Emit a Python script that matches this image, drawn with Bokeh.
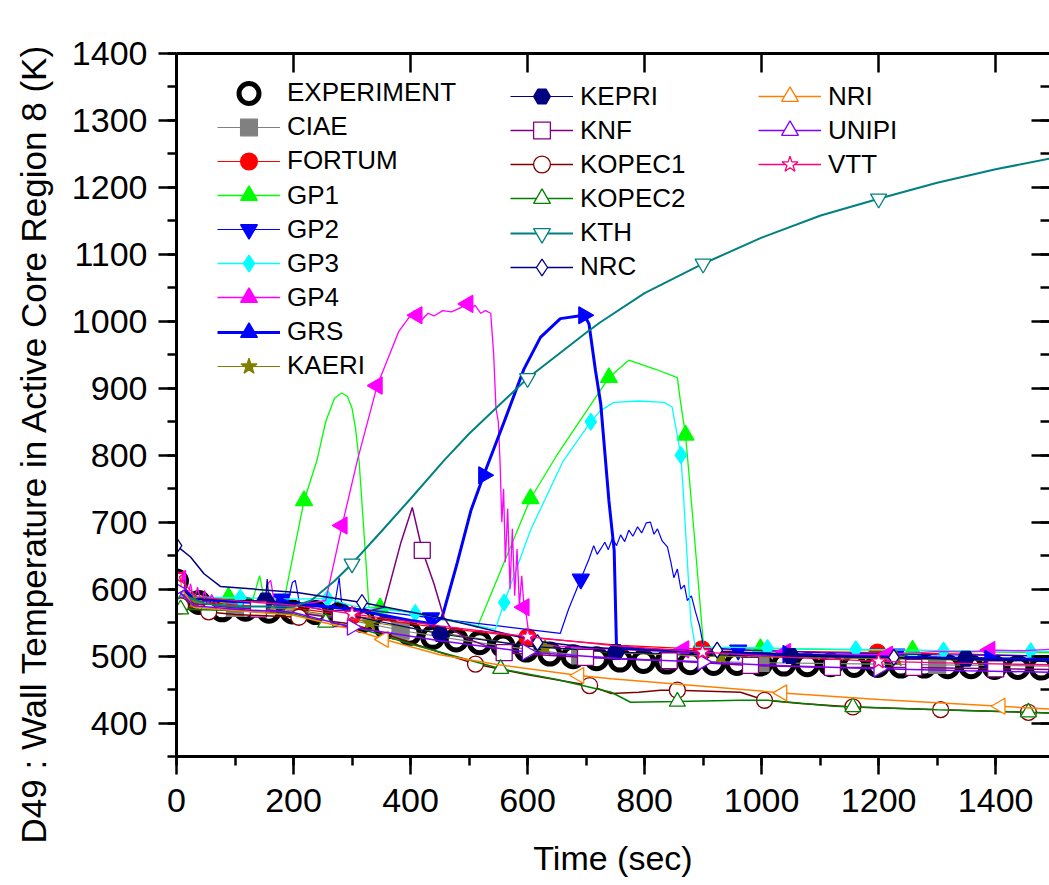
from math import pi
from bokeh.plotting import figure
from bokeh.models import (Range1d, LinearAxis, SingleIntervalTicker, Legend, LegendItem,
                          Title, CustomJSTickFormatter)
from bokeh.embed import file_html
from bokeh.resources import INLINE

FONT = "Liberation Sans"

# ---------------- data (time in s, wall temperature in K) ----------------
exp_t = [0, 38, 78, 118, 158, 198, 238, 278, 318, 358, 398, 438, 478, 518, 558, 598, 638, 678, 718, 758,
         798, 838, 878, 918, 958, 998, 1038, 1078, 1118, 1158, 1198, 1238, 1278, 1318, 1358, 1398, 1438, 1478]
exp_T = [612, 580, 569, 570, 567, 566, 565, 562, 553, 543, 534, 528, 524, 520, 515, 509, 503, 499, 496, 494,
         492, 491, 490, 489, 489, 488, 488, 487, 487, 486, 486, 485, 485, 484, 484, 483, 483, 482]

ciae_t = [0, 30, 100, 200, 300, 400, 500, 600, 700, 800, 900, 1000, 1100, 1200, 1300, 1400, 1492]
ciae_T = [605, 578, 572, 568, 553, 536, 522, 510, 500, 494, 492, 490, 489, 488, 487, 486, 485]
ciae_mt = [100, 383, 690, 998, 1300]
ciae_mT = [572, 538, 501, 490, 487]

fort_t = [0, 40, 100, 200, 300, 446, 600, 759, 900, 1050, 1198, 1350, 1492]
fort_T = [612, 582, 576, 572, 560, 543, 528, 516, 510, 507, 505, 503, 500]
fort_mt = [0, 300, 600, 898, 1198]
fort_mT = [612, 560, 528, 510, 505]

gp1_t = [0, 30, 100, 130, 142, 150, 186, 218, 240, 255, 270, 282, 292, 300, 306, 312, 320, 329, 348, 400,
         450, 500, 514, 522, 560, 605, 650, 700, 739, 773, 820, 856, 861, 870, 885, 901, 950, 1000, 1100, 1200,
         1300, 1400, 1492]
gp1_T = [600, 590, 583, 583, 620, 585, 593, 732, 792, 850, 885, 893, 888, 870, 840, 792, 690, 573, 572, 565,
         555, 548, 543, 560, 640, 735, 800, 865, 916, 942, 928, 916, 882, 830, 680, 513, 512, 511, 510, 509,
         508, 506, 505]
gp1_mt = [89, 218, 348, 605, 739, 870, 998, 1258]
gp1_mT = [588, 732, 572, 735, 916, 830, 511, 509]

gp2_t = [0, 30, 100, 190, 198, 203, 210, 270, 278, 282, 290, 309, 446, 550, 656, 670, 691, 705, 713, 719,
         725, 732, 738, 745, 752, 759, 766, 773, 780, 788, 795, 803, 810, 816, 822, 830, 839, 845, 850, 856,
         862, 868, 873, 880, 887, 894, 901, 950, 1100, 1300, 1492]
gp2_T = [605, 585, 580, 578, 610, 613, 580, 575, 617, 580, 572, 571, 556, 545, 534, 570, 615, 645, 665, 652,
         660, 670, 659, 676, 665, 681, 671, 688, 679, 693, 684, 699, 700, 682, 690, 672, 663, 640, 617, 630,
         600, 606, 583, 590, 566, 545, 513, 510, 505, 502, 500]
gp2_mt = [180, 435, 691, 960, 1230]
gp2_mT = [585, 557, 615, 509, 503]

gp3_t = [0, 30, 109, 200, 258, 300, 408, 500, 545, 560, 605, 660, 708, 725, 748, 790, 833, 847, 862, 867,
         879, 887, 950, 1010, 1161, 1311, 1460, 1492]
gp3_T = [608, 588, 587, 585, 586, 575, 564, 548, 540, 580, 688, 790, 850, 867, 879, 881, 879, 872, 800, 732,
         553, 513, 513, 512, 510, 508, 507, 507]
gp3_mt = [109, 258, 408, 560, 708, 862, 1010, 1161, 1311, 1460]
gp3_mT = [587, 586, 564, 580, 850, 800, 512, 510, 508, 507]

gp4_t = [0, 6, 12, 18, 24, 30, 36, 42, 48, 54, 60, 70, 100, 150, 156, 161, 168, 200, 255, 283,
         309, 343, 380, 406, 411, 420, 430, 440, 455, 470, 485, 498, 503, 510, 520, 528, 537, 542, 546, 550,
         553, 556, 559, 562, 566, 570, 574, 578, 582, 586, 590, 594, 598, 602, 610, 650, 700, 800, 900, 1000,
         1100, 1200, 1250, 1300, 1350, 1400, 1450, 1492]
gp4_T = [620, 585, 612, 584, 608, 582, 603, 580, 598, 578, 592, 576, 575, 574, 608, 613, 576, 575, 583, 695,
         792, 904, 985, 1016, 1009, 1003, 1012, 1008, 1016, 1014, 1020, 1026, 1018, 1024, 1012, 1016, 1012, 952, 870, 850,
         790, 700, 750, 640, 720, 600, 690, 590, 660, 575, 620, 573, 560, 534, 520, 515, 512, 508, 505, 504,
         503, 502, 504, 507, 506, 509, 508, 510]
gp4_mt = [7, 283, 343, 411, 498, 594, 867, 1041, 1215, 1390]
gp4_mT = [615, 695, 904, 1009, 1026, 573, 510, 506, 502, 509]

grs_t = [0, 30, 100, 200, 300, 400, 440, 454, 480, 503, 525, 560, 594, 622, 656, 696, 702, 705, 716, 725,
         739, 748, 752, 800, 900, 1000, 1100, 1200, 1300, 1400, 1492]
grs_T = [610, 585, 582, 578, 570, 553, 548, 558, 640, 717, 770, 850, 929, 976, 1004, 1009, 1001, 996, 927, 877,
         732, 658, 513, 510, 506, 503, 500, 499, 497, 496, 495]
grs_mt = [180, 525, 696, 1045, 1390]
grs_mT = [578, 770, 1009, 503, 496]

kaeri_t = [0, 30, 100, 200, 300, 450, 600, 750, 900, 1050, 1200, 1350, 1492]
kaeri_T = [603, 580, 574, 570, 555, 535, 515, 505, 500, 498, 496, 494, 493]
kaeri_mt = [30, 330, 630, 930, 1230]
kaeri_mT = [580, 550, 512, 499, 496]

kepri_t = [0, 30, 100, 152, 155, 158, 200, 300, 451, 600, 751, 900, 1050, 1200, 1349, 1492]
kepri_T = [607, 585, 583, 583, 615, 583, 578, 560, 533, 515, 506, 502, 500, 498, 496, 494]
kepri_mt = [152, 451, 751, 1050, 1349]
kepri_mT = [583, 533, 506, 500, 496]

knf_t = [0, 30, 100, 140, 200, 280, 354, 383, 403, 420, 440, 457, 470, 500, 560, 699, 842, 981, 1121, 1260,
         1400, 1492]
knf_T = [600, 578, 572, 570, 565, 556, 573, 668, 722, 658, 608, 558, 540, 525, 505, 498, 493, 486, 483, 483,
         481, 480]
knf_mt = [0, 140, 280, 420, 560, 699, 842, 981, 1121, 1260, 1400]
knf_mT = [600, 570, 556, 658, 505, 498, 493, 486, 483, 483, 481]

kop1_t = [0, 7, 55, 100, 209, 300, 360, 400, 511, 600, 706, 743, 790, 827, 856, 964, 985, 1005, 1067, 1156,
          1306, 1456, 1492]
kop1_T = [592, 575, 566, 562, 558, 548, 532, 520, 488, 472, 456, 444, 446, 449, 449, 446, 440, 434, 429, 424,
          420, 416, 415]
kop1_mt = [7, 55, 209, 511, 706, 856, 1005, 1156, 1306, 1456]
kop1_mT = [575, 566, 558, 488, 456, 449, 434, 424, 420, 416]

kop2_t = [0, 7, 100, 200, 255, 300, 400, 554, 650, 743, 776, 856, 964, 1010, 1124, 1300, 1492]
kop2_T = [575, 570, 568, 563, 550, 545, 518, 481, 465, 446, 431, 432, 434, 434, 425, 420, 415]
kop2_mt = [7, 255, 554, 856, 1156, 1456]
kop2_mT = [570, 550, 481, 432, 424, 416]

kth_t = [0, 50, 100, 200, 230, 270, 300, 350, 400, 457, 500, 600, 700, 725, 800, 900, 1000, 1101, 1200, 1300,
         1400, 1492]
kth_T = [595, 578, 574, 574, 583, 612, 638, 686, 735, 792, 832, 915, 983, 999, 1042, 1086, 1125, 1158, 1183, 1207,
         1227, 1243]
kth_mt = [0, 300, 600, 900, 1200]
kth_mT = [595, 638, 915, 1086, 1183]

nrc_t = [0, 24, 47, 75, 132, 206, 317, 446, 617, 700, 800, 924, 1050, 1226, 1350, 1492]
nrc_T = [665, 648, 623, 604, 600, 595, 580, 558, 522, 513, 509, 507, 503, 498, 495, 492]
nrc_mt = [0, 317, 617, 924, 1226]
nrc_mT = [665, 580, 520, 509, 498]

nri_t = [0, 30, 100, 200, 300, 354, 450, 550, 688, 743, 900, 1035, 1200, 1408, 1492]
nri_T = [612, 573, 568, 561, 540, 525, 502, 487, 471, 466, 455, 445, 435, 425, 421]
nri_mt = [0, 354, 688, 1035, 1408]
nri_mT = [612, 525, 471, 445, 425]

uni_t = [0, 30, 100, 200, 300, 450, 599, 759, 899, 1050, 1200, 1350, 1492]
uni_T = [600, 575, 570, 565, 543, 523, 506, 496, 491, 485, 481, 478, 476]
uni_mt = [0, 300, 599, 899, 1200]
uni_mT = [600, 543, 506, 491, 481]

vtt_t = [0, 35, 140, 200, 300, 450, 600, 743, 899, 1050, 1200, 1350, 1492]
vtt_T = [620, 588, 580, 576, 563, 545, 529, 516, 506, 498, 492, 489, 487]
vtt_mt = [0, 300, 600, 899, 1200]
vtt_mT = [620, 563, 529, 506, 492]

x_ticks_every = 200
y_ticks_every = 100

# (label, t, T, marker t, marker T, colour, marker, filled, line width, marker angle)
series = [
    ("CIAE", ciae_t, ciae_T, ciae_mt, ciae_mT, "#808080", "square", True, 1.2, 0),
    ("FORTUM", fort_t, fort_T, fort_mt, fort_mT, "#FF0000", "circle", True, 1.2, 0),
    ("GP1", gp1_t, gp1_T, gp1_mt, gp1_mT, "#00FF00", "triangle", True, 1.3, 0),
    ("GP2", gp2_t, gp2_T, gp2_mt, gp2_mT, "#0000FF", "inverted_triangle", True, 1.2, 0),
    ("GP3", gp3_t, gp3_T, gp3_mt, gp3_mT, "#00FFFF", "diamond", True, 1.3, 0),
    ("GP4", gp4_t, gp4_T, gp4_mt, gp4_mT, "#FF00FF", "triangle", True, 1.3, pi / 2),
    ("GRS", grs_t, grs_T, grs_mt, grs_mT, "#0000FF", "triangle", True, 3.0, -pi / 2),
    ("KAERI", kaeri_t, kaeri_T, kaeri_mt, kaeri_mT, "#808000", "star", True, 1.2, 0),
    ("KEPRI", kepri_t, kepri_T, kepri_mt, kepri_mT, "#000080", "hex", True, 1.2, 0),
    ("KNF", knf_t, knf_T, knf_mt, knf_mT, "#800080", "square", False, 1.5, 0),
    ("KOPEC1", kop1_t, kop1_T, kop1_mt, kop1_mT, "#800000", "circle", False, 1.5, 0),
    ("KOPEC2", kop2_t, kop2_T, kop2_mt, kop2_mT, "#008000", "triangle", False, 1.5, 0),
    ("KTH", kth_t, kth_T, kth_mt, kth_mT, "#008080", "inverted_triangle", False, 2.0, 0),
    ("NRC", nrc_t, nrc_T, nrc_mt, nrc_mT, "#000080", "diamond", False, 1.5, 0),
    ("NRI", nri_t, nri_T, nri_mt, nri_mT, "#FF8000", "triangle", False, 1.5, pi / 2),
    ("UNIPI", uni_t, uni_T, uni_mt, uni_mT, "#8000FF", "triangle", False, 1.5, -pi / 2),
    ("VTT", vtt_t, vtt_T, vtt_mt, vtt_mT, "#FF0080", "star", False, 1.3, 0),
]

W, H = 1049, 885
FRAME_BOTTOM = 756   # canvas px of the frame's lower edge (used for legend placement)
p = figure(width=W, height=H, x_range=Range1d(0, 1492), y_range=Range1d(350, 1400),
           output_backend="svg", toolbar_location=None,
           min_border_left=176, min_border_right=0, min_border_top=53, min_border_bottom=H - FRAME_BOTTOM)
p.xgrid.visible = False
p.ygrid.visible = False
p.outline_line_color = None
p.background_fill_color = "white"
p.border_fill_color = "white"


def style_axis(ax, tin, tout, minin, minout, labels=True):
    ax.axis_line_width = 3
    ax.axis_line_color = "black"
    ax.major_tick_line_width = 2.5
    ax.minor_tick_line_width = 2.5
    ax.major_tick_in = tin
    ax.major_tick_out = tout
    ax.minor_tick_in = minin
    ax.minor_tick_out = minout
    ax.major_label_text_font = FONT
    ax.major_label_text_font_size = "34px"
    ax.major_label_text_color = "black"
    if not labels:
        ax.formatter = CustomJSTickFormatter(code="return '';")
        ax.major_label_standoff = 0


xb = p.below[0]
xb.ticker = SingleIntervalTicker(interval=x_ticks_every, num_minor_ticks=2)
style_axis(xb, 0, 18, 0, 9)
xb.major_label_standoff = 14
xb.axis_label = "Time (sec)"
xb.axis_label_text_font = FONT
xb.axis_label_text_font_size = "34px"
xb.axis_label_text_font_style = "normal"
xb.axis_label_text_color = "black"
xb.axis_label_standoff = 24

yl = p.left[0]
yl.ticker = SingleIntervalTicker(interval=y_ticks_every, num_minor_ticks=2)
style_axis(yl, 0, 18, 0, 9)
yl.major_label_standoff = 11

top_ax = LinearAxis(ticker=SingleIntervalTicker(interval=x_ticks_every, num_minor_ticks=0))
style_axis(top_ax, 19, 0, 0, 0, labels=False)
p.add_layout(top_ax, "above")

right_ax = LinearAxis(ticker=SingleIntervalTicker(interval=y_ticks_every, num_minor_ticks=2))
style_axis(right_ax, 18, 0, 9, 0, labels=False)
right_ax.axis_line_color = None
right_ax.axis_label_standoff = 0
p.add_layout(right_ax, "right")

# y-axis title on the left side, started below the frame like the original
ytitle = Title(text="D49 : Wall Temperature in Active Core Region 8 (K)", align="left",
               vertical_align="top", offset=-87, standoff=27,
               text_font=FONT, text_font_size="35px", text_font_style="normal", text_color="black")
p.add_layout(ytitle, "left")

# experiment: thick black rings, no line
exp_r = p.scatter(exp_t, exp_T, marker="circle", size=20, line_color="black", line_width=5,
                  fill_color=None)

items = []
for (name, t, T, mt, mT, col, mk, filled, lw, ang) in series:
    lr = p.line(t, T, line_color=col, line_width=lw)
    sr = p.scatter(mt, mT, marker=mk, size=17 if filled else 16, angle=ang,
                   line_color=col, line_width=1.3,
                   fill_color=col if filled else "white")
    items.append(LegendItem(label=name, renderers=[lr, sr]))


def add_key(item, x_left, y_center, gh):
    lg = Legend(items=[item], location=(x_left, FRAME_BOTTOM - (y_center + gh / 2)),
                orientation="vertical", glyph_width=63, glyph_height=gh, spacing=0,
                padding=0, margin=0, label_standoff=7, label_text_font=FONT,
                label_text_font_size="26px", label_text_color="black",
                border_line_color=None, background_fill_alpha=0)
    p.add_layout(lg, "center")


# legend columns: (first row centre in canvas px, row pitch, left offset inside frame)
add_key(LegendItem(label="EXPERIMENT", renderers=[exp_r]), 41, 92.7, 50)
columns = [(items[0:8], 41, 126.7), (items[8:14], 334, 96.0), (items[14:17], 582, 96.0)]
PITCH = 34.15
for its, xl, y0 in columns:
    for i, it in enumerate(its):
        add_key(it, xl, y0 + i * PITCH, 42)

open("out.html", "w").write(file_html(p, INLINE))
